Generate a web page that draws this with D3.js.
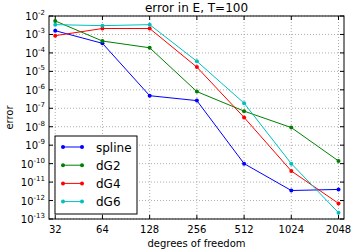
<!DOCTYPE html>
<html>
<head>
<meta charset="utf-8">
<script src="https://cdn.jsdelivr.net/npm/d3@7"></script>
<style>
  body { margin: 0; background: #fff; }
  text { font-family: "DejaVu Sans", sans-serif; fill: #000; }
</style>
</head>
<body>
<div id="canvas"></div>
<script>
// data
const dofs = [32, 64, 128, 256, 512, 1024, 2048];
const spline = [1.6e-3, 3.3e-4, 4.8e-7, 2.6e-7, 1.0e-10, 3.5e-12, 4.0e-12];
const dG2 = [5.4e-3, 4.4e-4, 1.9e-4, 8.0e-7, 7.0e-8, 9.0e-9, 1.4e-10];
const dG4 = [8.6e-4, 2.1e-3, 2.1e-3, 1.7e-5, 3.2e-8, 4.0e-11, 7.0e-13];
const dG6 = [3.4e-3, 3.0e-3, 3.4e-3, 3.5e-5, 1.9e-7, 1.0e-10, 2.2e-13];
const names = ["spline", "dG2", "dG4", "dG6"];
const colors = ["#0000ff", "#008000", "#ff0000", "#00bfbf"];
const yExps = d3.range(-13, -1); // -13 .. -2

const width = 354, height = 252;
const margin = { top: 16, left: 49, bottom: 33, right: 10 };
const iwidth = width - margin.left - margin.right;
const iheight = height - margin.top - margin.bottom;

const svg = d3.select("#canvas").append("svg")
    .attr("width", width)
    .attr("height", height);

const g = svg.append("g").attr("transform", `translate(${margin.left},${margin.top})`);

const x = d3.scaleLog().base(2)
    .domain([29.2, 2220])
    .range([0, iwidth]);

const y = d3.scaleLog()
    .domain([1e-13, 1e-2])
    .range([iheight, 0]);

// grid
g.selectAll(".gx").data(dofs).enter().append("line")
    .attr("x1", d => x(d)).attr("x2", d => x(d))
    .attr("y1", 0).attr("y2", iheight)
    .attr("stroke", "#999").attr("stroke-width", 0.8)
    .attr("stroke-dasharray", "1,2");
g.selectAll(".gy").data(yExps).enter().append("line")
    .attr("x1", 0).attr("x2", iwidth)
    .attr("y1", d => y(Math.pow(10, d))).attr("y2", d => y(Math.pow(10, d)))
    .attr("stroke", "#999").attr("stroke-width", 0.8)
    .attr("stroke-dasharray", "1,2");

// ticks inward
const tk = 4;
dofs.forEach(d => {
    g.append("line").attr("x1", x(d)).attr("x2", x(d)).attr("y1", iheight).attr("y2", iheight - tk).attr("stroke", "#000");
    g.append("line").attr("x1", x(d)).attr("x2", x(d)).attr("y1", 0).attr("y2", tk).attr("stroke", "#000");
    g.append("text")
        .attr("x", x(d)).attr("y", iheight + 14)
        .attr("text-anchor", "middle")
        .style("font-size", "10px")
        .text(d);
});
yExps.forEach(e => {
    const yy = y(Math.pow(10, e));
    g.append("line").attr("x1", 0).attr("x2", tk).attr("y1", yy).attr("y2", yy).attr("stroke", "#000");
    g.append("line").attr("x1", iwidth).attr("x2", iwidth - tk).attr("y1", yy).attr("y2", yy).attr("stroke", "#000");
    const t = g.append("text")
        .attr("x", -4).attr("y", yy + 4)
        .attr("text-anchor", "end")
        .style("font-size", "10px");
    t.append("tspan").text("10");
    t.append("tspan").attr("dy", -5).style("font-size", "7px").text(e);
});

// lines
const line = d3.line()
    .x((d, i) => x(dofs[i]))
    .y(d => y(d));

[spline, dG2, dG4, dG6].forEach((s, k) => {
    g.append("path")
        .attr("d", line(s))
        .attr("fill", "none")
        .attr("stroke", colors[k])
        .attr("stroke-width", 1);
    g.selectAll(".m" + k).data(s).enter().append("circle")
        .attr("cx", (d, i) => x(dofs[i]))
        .attr("cy", d => y(d))
        .attr("r", 2)
        .attr("fill", colors[k]);
});

// frame
g.append("rect")
    .attr("width", iwidth).attr("height", iheight)
    .attr("fill", "none").attr("stroke", "#000").attr("stroke-width", 1);

// legend
const lg = g.append("g").attr("transform", `translate(6,${iheight - 83})`);
lg.append("rect")
    .attr("width", 82).attr("height", 78)
    .attr("fill", "#fff").attr("stroke", "#000").attr("stroke-width", 1);
names.forEach((n, k) => {
    const ly = 11 + k * 18.2;
    lg.append("line").attr("x1", 8).attr("x2", 27).attr("y1", ly).attr("y2", ly)
        .attr("stroke", colors[k]).attr("stroke-width", 1);
    lg.append("circle").attr("cx", 8).attr("cy", ly).attr("r", 2).attr("fill", colors[k]);
    lg.append("circle").attr("cx", 27).attr("cy", ly).attr("r", 2).attr("fill", colors[k]);
    lg.append("text").attr("x", 41).attr("y", ly + 4.5)
        .style("font-size", "12px").text(n);
});

// titles
svg.append("text")
    .attr("x", margin.left + iwidth / 2).attr("y", 12)
    .attr("text-anchor", "middle")
    .style("font-size", "12px")
    .text("error in E, T=100");
svg.append("text")
    .attr("x", margin.left + iwidth / 2).attr("y", 247)
    .attr("text-anchor", "middle")
    .style("font-size", "10px")
    .text("degrees of freedom");
svg.append("text")
    .attr("transform", `translate(13,${margin.top + iheight / 2}) rotate(-90)`)
    .attr("text-anchor", "middle")
    .style("font-size", "10px")
    .text("error");
</script>
</body>
</html>
